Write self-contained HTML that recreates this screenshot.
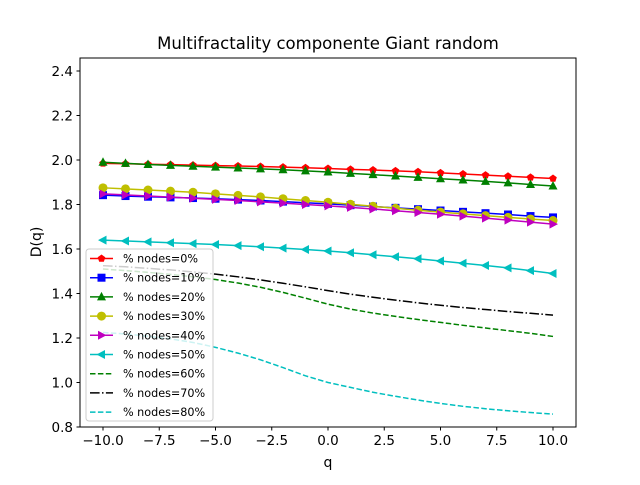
<!DOCTYPE html>
<html><head><meta charset="utf-8"><style>body{margin:0;background:#fff}svg{font-family:"DejaVu Sans","Liberation Sans",sans-serif}</style></head>
<body>
<svg id="chart" width="640" height="480" viewBox="0 0 640 480">
<rect x="0" y="0" width="640" height="480" fill="#fff"/>
<text x="328" y="49" text-anchor="middle" font-size="16.5">Multifractality componente Giant random</text>
<g id="plot"></g>
<rect x="80" y="58" width="496" height="369" fill="none" stroke="#000" stroke-width="1"/>
<g id="xt"></g><g id="yt"></g>
<text x="328" y="467" text-anchor="middle" font-size="14">q</text>
<text transform="translate(41,242) rotate(-90)" text-anchor="middle" font-size="14">D(q)</text>
<g id="legend"></g>
</svg>
<script>
const qs=[-10,-9,-8,-7,-6,-5,-4,-3,-2,-1,0,1,2,3,4,5,6,7,8,9,10];
const labels=["% nodes=0%","% nodes=10%","% nodes=20%","% nodes=30%","% nodes=40%","% nodes=50%","% nodes=60%","% nodes=70%","% nodes=80%"];
const s0=[1.985,1.983,1.981,1.979,1.977,1.975,1.973,1.971,1.968,1.965,1.962,1.958,1.955,1.951,1.947,1.942,1.937,1.932,1.927,1.922,1.917];
const s10=[1.842,1.838,1.835,1.832,1.829,1.826,1.822,1.818,1.813,1.808,1.803,1.797,1.791,1.785,1.779,1.773,1.767,1.761,1.755,1.748,1.742];
const s20=[1.99,1.985,1.98,1.976,1.972,1.968,1.964,1.96,1.956,1.951,1.946,1.94,1.934,1.928,1.922,1.916,1.91,1.904,1.897,1.89,1.883];
const s30=[1.875,1.87,1.865,1.86,1.855,1.848,1.841,1.834,1.826,1.818,1.81,1.801,1.792,1.783,1.774,1.766,1.758,1.75,1.742,1.735,1.728];
const s40=[1.848,1.843,1.838,1.833,1.828,1.823,1.818,1.812,1.806,1.8,1.794,1.787,1.78,1.772,1.764,1.756,1.748,1.739,1.73,1.721,1.712];
const s50=[1.64,1.636,1.632,1.628,1.624,1.62,1.615,1.61,1.604,1.598,1.591,1.583,1.574,1.565,1.556,1.546,1.536,1.526,1.515,1.503,1.49];
const s60=[1.51,1.503,1.495,1.486,1.475,1.463,1.447,1.428,1.405,1.379,1.352,1.33,1.312,1.297,1.283,1.27,1.257,1.245,1.233,1.221,1.207];
const s70=[1.525,1.52,1.513,1.506,1.497,1.487,1.475,1.461,1.446,1.43,1.413,1.397,1.383,1.37,1.358,1.347,1.337,1.328,1.319,1.311,1.303];
const s80=[1.225,1.218,1.208,1.196,1.18,1.158,1.132,1.102,1.067,1.03,1.0,0.978,0.956,0.938,0.921,0.906,0.893,0.882,0.873,0.865,0.858];
const xTicks=[-10,-7.5,-5,-2.5,0,2.5,5,7.5,10];
const xTickLabels=["−10.0","−7.5","−5.0","−2.5","0.0","2.5","5.0","7.5","10.0"];
const yTicks=[0.8,1.0,1.2,1.4,1.6,1.8,2.0,2.2,2.4];
const yTickLabels=["0.8","1.0","1.2","1.4","1.6","1.8","2.0","2.2","2.4"];

const NS="http://www.w3.org/2000/svg";
const X=v=>103+(v+10)*22.5;
const Y=v=>427-(v-0.8)*222.5;
function mk(tag,attrs,parent){const e=document.createElementNS(NS,tag);for(const k in attrs)e.setAttribute(k,attrs[k]);parent.appendChild(e);return e;}
const styles=[
 {d:s0,c:"#ff0000",m:"p",dash:""},{d:s10,c:"#0000ff",m:"s",dash:""},{d:s20,c:"#008000",m:"^",dash:""},
 {d:s30,c:"#bfbf00",m:"o",dash:""},{d:s40,c:"#bf00bf",m:">",dash:""},{d:s50,c:"#00bfbf",m:"<",dash:""},
 {d:s60,c:"#008000",m:"",dash:"5.5,2.4"},{d:s70,c:"#000000",m:"",dash:"9.6,2.4,1.5,2.4"},{d:s80,c:"#00bfbf",m:"",dash:"5.5,2.4"}];
function marker(m,x,y,c,p){
 const r=4;let e;
 if(m==="o")e=mk("circle",{cx:x,cy:y,r:r+0.5,fill:c},p);
 else if(m==="s")e=mk("rect",{x:x-r,y:y-r,width:2*r,height:2*r,fill:c},p);
 else{let pts;
  if(m==="^")pts=[[0,-r-1],[r+0.5,r-0.5],[-r-0.5,r-0.5]];
  else if(m===">")pts=[[r+1,0],[-r+0.5,-r-0.5],[-r+0.5,r+0.5]];
  else if(m==="<")pts=[[-r-1,0],[r-0.5,-r-0.5],[r-0.5,r+0.5]];
  else pts=[0,1,2,3,4].map(i=>{const a=-Math.PI/2+i*2*Math.PI/5;return[r*Math.cos(a),r*Math.sin(a)];});
  e=mk("polygon",{points:pts.map(q=>(x+q[0])+","+(y+q[1])).join(" "),fill:c},p);}
 return e;}
const plot=document.getElementById("plot");
styles.forEach((s,i)=>{
 const g=mk("g",{},plot);
 
 
 const pl=mk("polyline",{points:s.d.map((v,j)=>X(qs[j])+","+Y(v)).join(" "),fill:"none",stroke:s.c,"stroke-width":1.5},g);
 if(s.dash)pl.setAttribute("stroke-dasharray",s.dash);
 
 
 if(s.m)s.d.forEach((v,j)=>{const e=marker(s.m,X(qs[j]),Y(v),s.c,g);
  
  });
});
const xt=document.getElementById("xt");
xTicks.forEach((v,i)=>{mk("line",{x1:X(v),x2:X(v),y1:427,y2:430.5,stroke:"#000"},xt);
 const t=mk("text",{x:X(v),y:445,"text-anchor":"middle","font-size":"13.5"},xt);t.textContent=xTickLabels[i];
 
 });
const yt=document.getElementById("yt");
yTicks.forEach((v,i)=>{mk("line",{x1:76.5,x2:80,y1:Y(v),y2:Y(v),stroke:"#000"},yt);
 const t=mk("text",{x:73,y:Y(v)+5,"text-anchor":"end","font-size":"13.5"},yt);t.textContent=yTickLabels[i];
 
 });
const lg=document.getElementById("legend");
mk("rect",{x:86,y:249,width:127,height:172,rx:3,fill:"#fff","fill-opacity":0.8,stroke:"#ccc"},lg);
styles.forEach((s,i)=>{const y=258.5+i*19.2;
 const l=mk("line",{x1:90,x2:113,y1:y,y2:y,stroke:s.c,"stroke-width":1.5},lg);
 if(s.dash)l.setAttribute("stroke-dasharray",s.dash);
 if(s.m)marker(s.m,101.5,y,s.c,lg);
 const t=mk("text",{x:123,y:y+4,"font-size":"11.2"},lg);t.textContent=labels[i];
 
 });
</script>
</body></html>
